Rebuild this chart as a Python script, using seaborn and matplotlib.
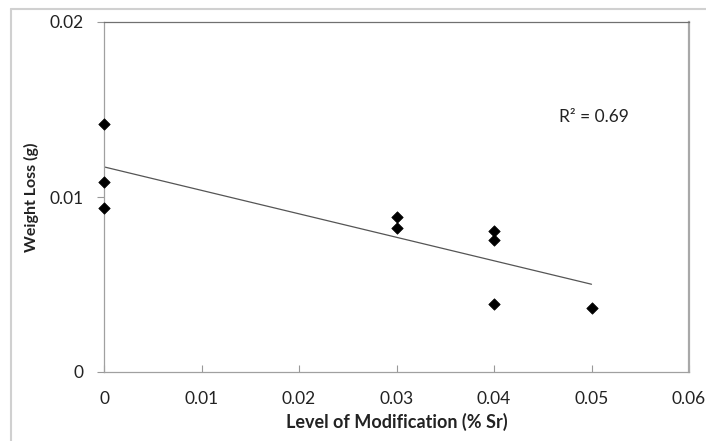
import matplotlib
matplotlib.use("Agg")
import matplotlib.pyplot as plt
import seaborn as sns
import numpy as np
import pandas as pd
from matplotlib.lines import Line2D

# Data
modification = [0.0, 0.0, 0.0, 0.03, 0.03, 0.04, 0.04, 0.04, 0.05]
weight_loss = [0.01417, 0.01086, 0.00937, 0.00886, 0.00823, 0.00806, 0.00754, 0.00389, 0.00366]
x_ticks = [0, 0.01, 0.02, 0.03, 0.04, 0.05, 0.06]
x_tick_labels = ["0", "0.01", "0.02", "0.03", "0.04", "0.05", "0.06"]
y_ticks = [0, 0.01, 0.02]
y_tick_labels = ["0", "0.01", "0.02"]
r2_label = "R² = 0.69"

df = pd.DataFrame({"mod": modification, "loss": weight_loss})

sns.set_theme(style="white")
plt.rcParams["font.family"] = ["Lato", "DejaVu Sans"]

fig = plt.figure(figsize=(7.06, 4.41), dpi=100)
ax = fig.add_axes([104/706, 1-372/441, (689-104)/706, (372-22)/441])

sns.regplot(data=df, x="mod", y="loss", scatter=False, ci=None, truncate=True,
            line_kws={"color": "#555555", "lw": 0.9}, ax=ax)
sns.scatterplot(data=df, x="mod", y="loss", marker="D", color="black",
                s=34, edgecolor="black", linewidth=0.5, zorder=3, ax=ax,
                clip_on=False)

ax.set_xlim(0, 0.06)
ax.set_ylim(0, 0.02)
ax.set_xticks(x_ticks)
ax.set_xticklabels(x_tick_labels, fontsize=12.5, color="#222222")
ax.set_yticks(y_ticks)
ax.set_yticklabels(y_tick_labels, fontsize=12.5, color="#222222")
ax.tick_params(axis="x", direction="in", length=5, width=0.8, color="#999999", pad=14)
ax.tick_params(axis="y", direction="out", length=5, width=0.8, color="#999999", pad=10)
ax.tick_params(axis="x", which="both", bottom=True)
ax.tick_params(axis="y", which="both", left=True)

ax.set_xlabel("Level of Modification (% Sr)", fontsize=13, fontweight="bold",
              color="#222222", labelpad=4)
ax.set_ylabel("Weight Loss (g)", fontsize=11.5, fontweight="bold",
              color="#222222", labelpad=7)

for side in ["left", "bottom"]:
    ax.spines[side].set_color("#a0a0a0")
    ax.spines[side].set_linewidth(0.9)
ax.spines["top"].set_color("#707070")
ax.spines["top"].set_linewidth(0.9)
ax.spines["right"].set_color("#a8a8a8")
ax.spines["right"].set_linewidth(1.6)

ax.text(0.0467, 0.01457, r2_label, fontsize=12.5, color="#222222", va="center", ha="left")

# outer chart frame (left and top edges visible)
fig.add_artist(Line2D([11/706, 11/706], [0, 1-9/441], transform=fig.transFigure,
                      color="#d0d0d0", lw=1.5))
fig.add_artist(Line2D([11/706, 1], [1-9/441, 1-9/441], transform=fig.transFigure,
                      color="#d0d0d0", lw=1.5))

fig.savefig("out.png", dpi=100)
